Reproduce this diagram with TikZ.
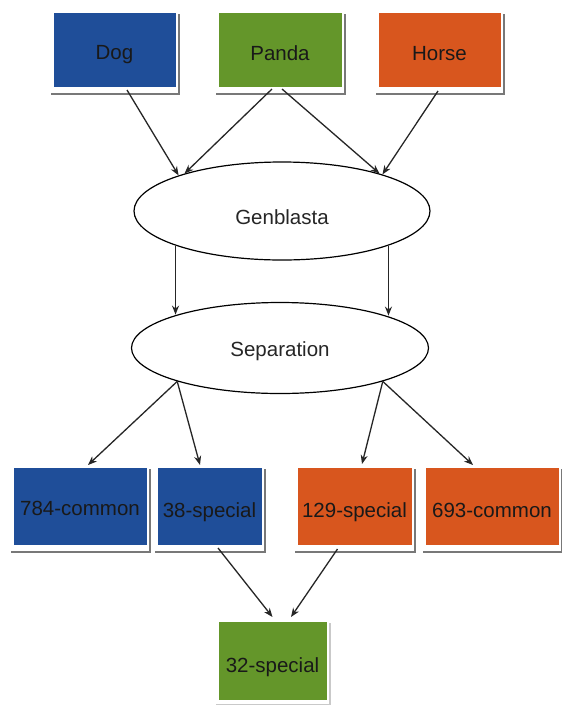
\documentclass[tikz,border=0pt]{standalone}
\usepackage{fontspec}
\setmainfont{Liberation Sans}
\usetikzlibrary{arrows.meta,calc,shapes.geometric}
\definecolor{cblue}{RGB}{31,78,153}
\definecolor{cgreen}{RGB}{100,150,42}
\definecolor{corange}{RGB}{216,86,30}
\definecolor{shadowgray}{RGB}{120,120,120}
\begin{document}
\begin{tikzpicture}[x=1pt,y=-1pt,
  box/.style={rectangle, inner sep=0pt, outer sep=0pt, draw=white, line width=1pt,
    font=\fontsize{20.5}{24}\selectfont, text=black!90, text depth=5pt},
  oval/.style={ellipse, draw=black, line width=1.2pt, fill=white, inner sep=0pt,
    font=\fontsize{20.5}{24}\selectfont, text=black!85, text depth=5pt},
  arr/.style={-{Stealth[length=9pt,width=7pt]}, line width=1.3pt, draw=black!85},
  shade/.style={draw=shadowgray, line width=2.5pt},
  lightshade/.style={draw=shadowgray!40, line width=2pt}]
\useasboundingbox (0,0) rectangle (562,705);
\fill[white] (0,0) rectangle (562,705);

% top row
\node[box, fill=cblue, minimum width=123pt, minimum height=75pt, text height=25pt] (dog) at (114.5,49.5) {Dog};
\node[box, fill=cgreen, minimum width=124pt, minimum height=75pt, text height=27pt] (panda) at (280,49.5) {Panda};
\node[box, fill=corange, minimum width=123pt, minimum height=75pt, text height=27pt] (horse) at (439.5,49.5) {Horse};

% ellipses
\node[oval, minimum width=296pt, minimum height=98pt, text height=31pt] (gen) at (282,211) {Genblasta};
\node[oval, minimum width=297pt, minimum height=91pt, text height=22pt] (sep) at (280,348) {Separation};

% bottom row
\node[box, fill=cblue, minimum width=134pt, minimum height=78pt, text height=24pt] (c784) at (80,506) {784-common};
\node[box, fill=cblue, minimum width=105pt, minimum height=78pt, text height=27pt] (s38) at (209.5,506) {38-special};
\node[box, fill=corange, minimum width=115pt, minimum height=78pt, text height=27pt] (s129) at (354.5,506) {129-special};
\node[box, fill=corange, minimum width=134pt, minimum height=78pt, text height=27pt] (c693) at (492,506) {693-common};
\node[box, fill=cgreen, minimum width=109pt, minimum height=79pt, text height=28pt] (s32) at (272.5,660.5) {32-special};

% shadows
\foreach \n in {dog,panda,horse,c784,s38,s129,c693}{
  \draw[shade] ($(\n.south west)+(-2,7)$) -- ($(\n.south east)+(3,7)$) -- ($(\n.north east)+(3,2)$);
}
\draw[lightshade] ($(s32.south west)+(-2,5)$) -- ($(s32.south east)+(3,5)$) -- ($(s32.north east)+(3,2)$);

% connectors: top -> Genblasta
\draw[arr] ($(dog.south)+(12.5,3)$) -- (gen.161);
\draw[arr] ($(panda.south)+(-8,2)$) -- (gen.159);
\draw[arr] ($(panda.south)+(2,2)$) -- (gen.21);
\draw[arr] ($(horse.south)+(-1.5,4)$) -- (gen.20);

% Genblasta -> Separation
\draw[arr] (gen.198) -- (gen.198 |- sep.162);
\draw[arr] (gen.-18.5) -- (gen.-18.5 |- sep.17);

% Separation -> bottom
\draw[arr] (sep.198) -- ($(c784.north)+(8,-2)$);
\draw[arr] (sep.198) -- ($(s38.north)+(-9.5,-2)$);
\draw[arr] (sep.-18) -- ($(s129.north)+(7.5,-3)$);
\draw[arr] (sep.-18) -- ($(c693.north)+(-19,-2)$);

% -> 32-special
\draw[arr] ($(s38.south)+(8.5,3)$) -- ($(s32.north)+(0,-4)$);
\draw[arr] ($(s129.south)+(-17,4)$) -- ($(s32.north)+(18.5,-4)$);
\end{tikzpicture}
\end{document}
